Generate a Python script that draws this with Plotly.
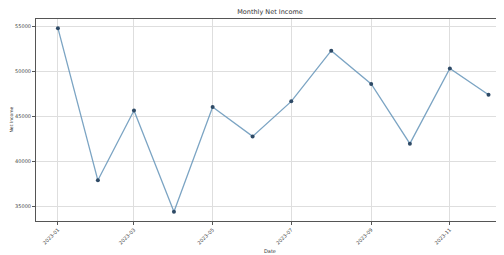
import plotly.graph_objects as go

months = ["2023-01-01", "2023-02-01", "2023-03-01", "2023-04-01", "2023-05-01", "2023-06-01",
          "2023-07-01", "2023-08-01", "2023-09-01", "2023-10-01", "2023-11-01", "2023-12-01"]
net_income = [54800, 37900, 45650, 34400, 46050, 42780, 46670, 52300, 48600, 41970, 50330, 47410]
y_ticks = [35000, 40000, 45000, 50000, 55000]
y_tick_labels = ["35000", "40000", "45000", "50000", "55000"]
x_ticks = ["2023-01-01", "2023-03-01", "2023-05-01", "2023-07-01", "2023-09-01", "2023-11-01"]
x_tick_labels = ["2023-01", "2023-03", "2023-05", "2023-07", "2023-09", "2023-11"]

W, H = 496, 247
L, T, B = 28, 11, 34
PW, PH = W - L, H - T - B

fig = go.Figure()
fig.add_trace(go.Scatter(
    x=months, y=net_income, mode="lines+markers",
    line=dict(color="rgba(100,148,185,0.85)", width=1.3),
    marker=dict(color="#2e4a66", size=4),
))

axis_common = dict(
    showline=True, linecolor="#555", linewidth=1,
    showgrid=True, gridcolor="#dedede", gridwidth=1,
    ticks="outside", ticklen=3, tickcolor="#555",
    tickfont=dict(family="DejaVu Sans", size=5, color="#444"),
    zeroline=False, automargin=False,
)

fig.update_layout(
    width=W, height=H,
    margin=dict(l=L, r=0, t=T, b=B),
    paper_bgcolor="white", plot_bgcolor="white",
    showlegend=False,
    title=dict(text="Monthly Net Income", x=262 / W, xanchor="center", y=1 - 1.5 / H, yanchor="top",
               font=dict(family="DejaVu Sans", size=6.5, color="#333")),
    xaxis=dict(**axis_common, mirror=True, type="date", range=["2022-12-15", "2023-12-13"],
               tickvals=x_ticks, ticktext=x_tick_labels, tickangle=-45),
    yaxis=dict(**axis_common, mirror=False, range=[33380, 55820], tickvals=y_ticks, ticktext=y_tick_labels),
    annotations=[
        dict(text="Date", xref="paper", yref="paper", x=(262 - L) / PW, y=-(243 - (T + PH)) / PH,
             xanchor="center", yanchor="middle", showarrow=False,
             font=dict(family="DejaVu Sans", size=5, color="#333")),
        dict(text="Net Income", xref="paper", yref="paper", x=(2.5 - L) / PW, y=0.5,
             xanchor="center", yanchor="middle", showarrow=False, textangle=-90,
             font=dict(family="DejaVu Sans", size=4.5, color="#333")),
    ],
)

fig.write_html("out.html")
